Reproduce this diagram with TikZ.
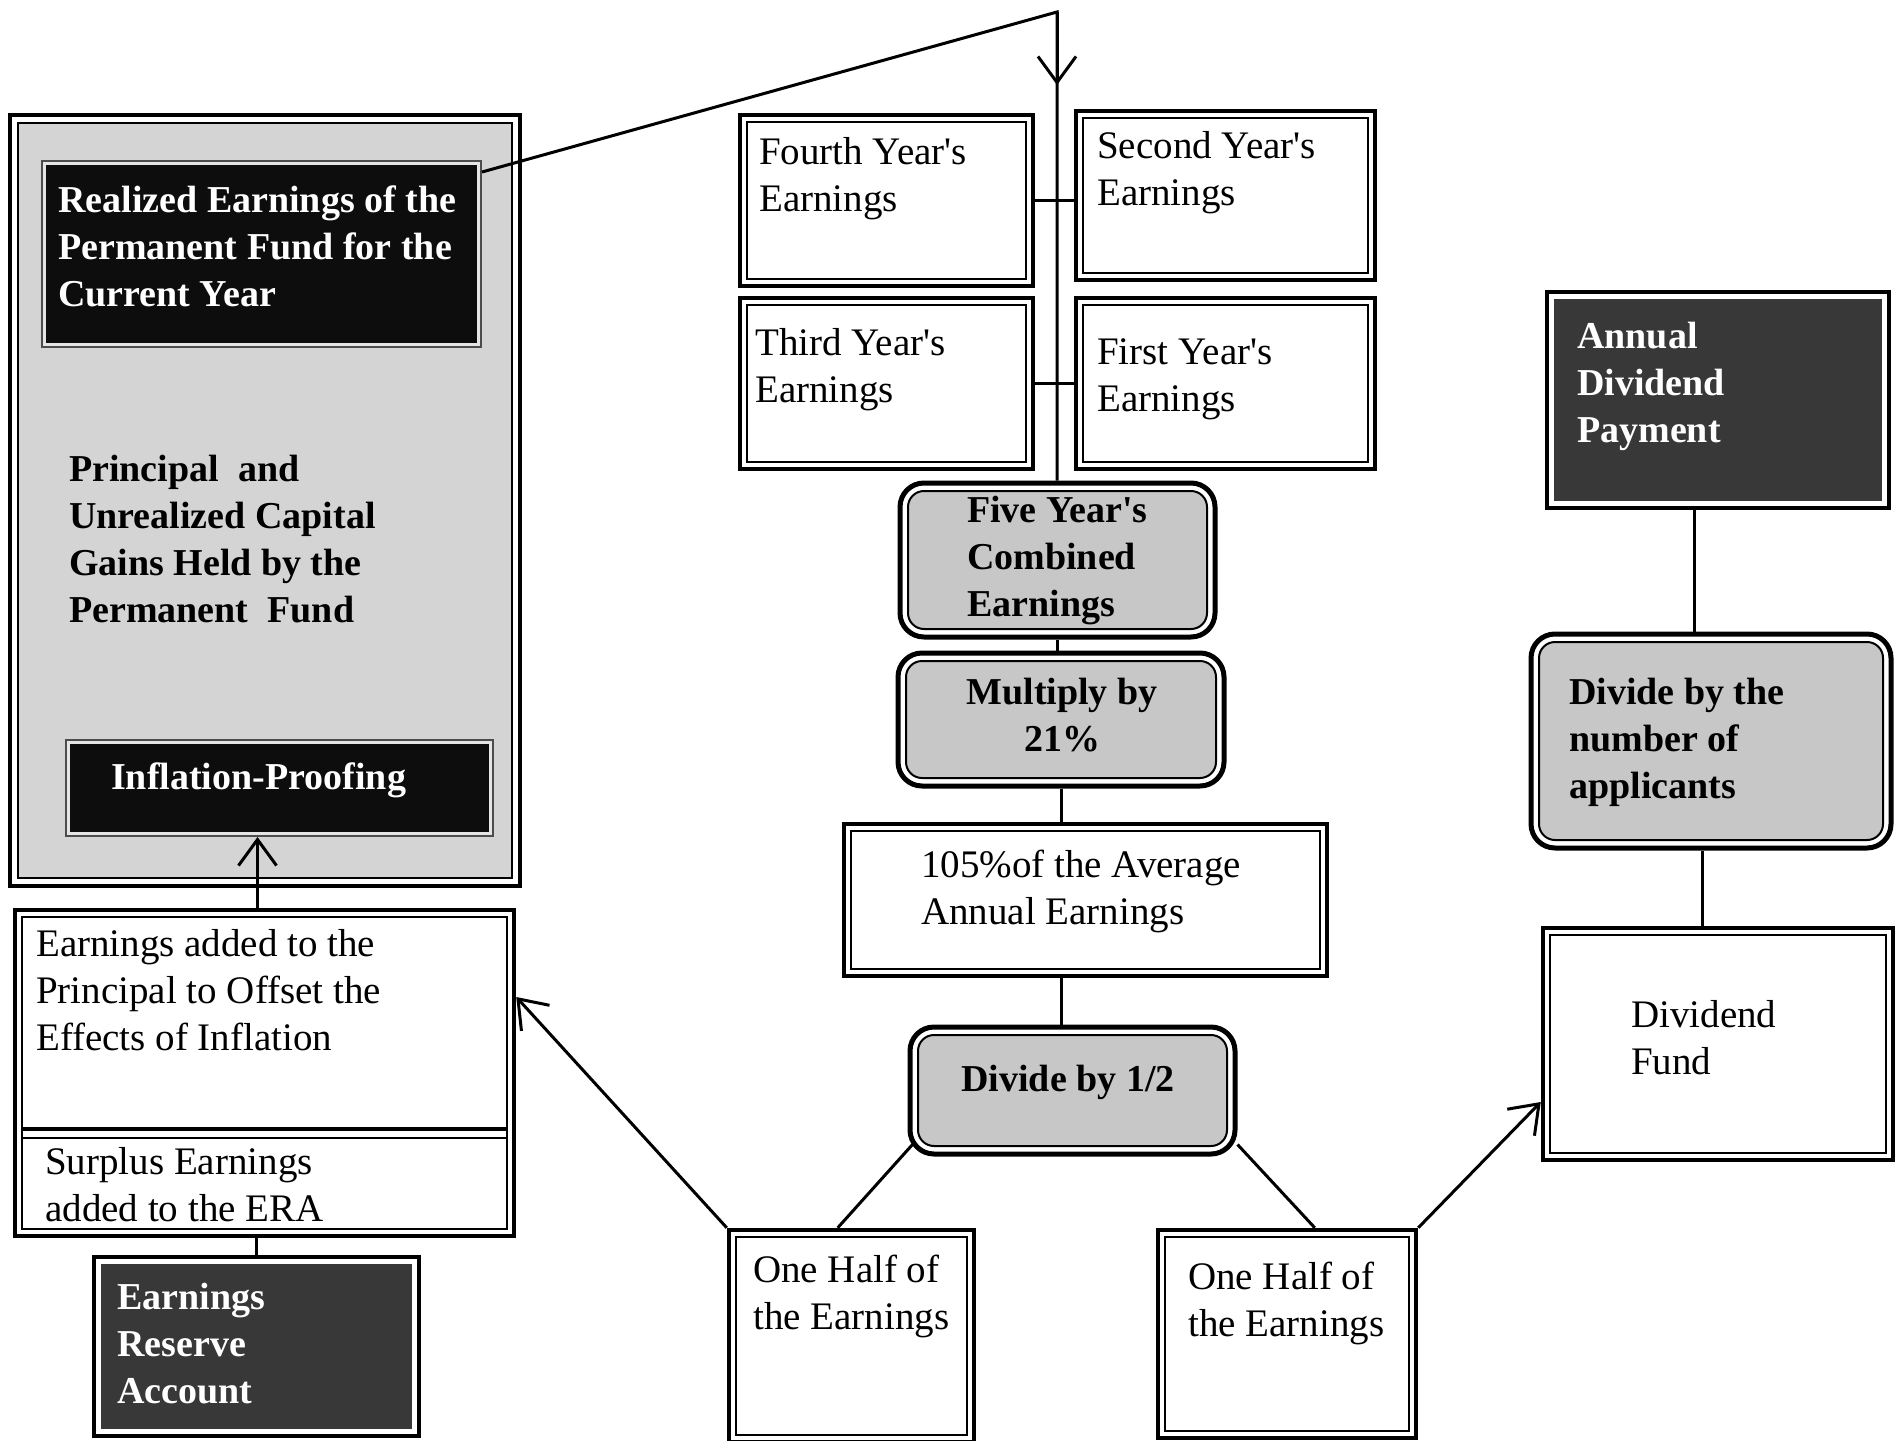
\documentclass[tikz,border=0pt]{standalone}
\usepackage{fontspec}
\setmainfont{Liberation Serif}
\usetikzlibrary{arrows.meta,fit}
\newcommand{\apo}{\textquotesingle}
\begin{document}
\begin{tikzpicture}[x=1pt,y=-1pt,
  infill/.store in=\boxinfill, indraw/.store in=\boxindraw,
  inlw/.store in=\boxinlw, inset/.store in=\boxinset, inrad/.store in=\boxinrad,
  infill=white, indraw=black, inlw=1.6pt, inset=7pt, inrad=0pt,
  box/.style={draw, line width=4.5pt, fill=white, inner sep=0pt,
    path picture={\draw[line width=\boxinlw, draw=\boxindraw, fill=\boxinfill, rounded corners=\boxinrad]
      ([shift={(\boxinset,-\boxinset)}]path picture bounding box.north west) rectangle
      ([shift={(-\boxinset,\boxinset)}]path picture bounding box.south east);}},
  rndbox/.style={box, line width=5pt, rounded corners=24pt, inrad=16pt, inset=8pt, infill=black!22, inlw=2pt},
  darkbox/.style={box, line width=3.5pt, infill=black!78, indraw=black!78, inset=8pt},
  blackbox/.style={box, line width=2pt, draw=black!70, fill=black!10, infill=black!95, indraw=black!95, inset=5pt},
  conn/.style={line width=3pt, draw=black},
  tip/.style={-{Straight Barb[length=26pt,width=38pt,line width=3pt]}},
  txt/.style={inner sep=0pt, anchor=north west, align=left, font=\fontsize{39}{47}\selectfont},
  btxt/.style={txt, font=\fontsize{38}{47}\selectfont\bfseries},
]
\useasboundingbox[fill=white] (0,0) rectangle (1895,1440);

% big permanent fund box
\node[box, inset=8pt, infill=black!17, inlw=2pt, fit={(10,115) (520,886)}] (big) {};
\node[blackbox, fit={(42,161) (481,347)}] (real) {};
\node[blackbox, fit={(66,740) (493,836)}] (infl) {};
\node[btxt, text=white] (realT) at (58,186) {Realized Earnings of the\\Permanent Fund for the\\Current Year};
\node[btxt] (prinT) at (69,455) {Principal\ \ and\\Unrealized Capital\\Gains Held by the\\Permanent\ \ Fund};
\node[btxt, text=white, anchor=west] (inflT) at (111,780) {Inflation-Proofing};

% earnings added box
\node[box, fit={(15,910) (514,1236)}] (ear) {};
\draw[line width=4.5pt] (22,1129) -- (507,1129);
\draw[line width=1.6pt] (22,1138) -- (507,1138);
\node[txt] (earT) at (36,929) {Earnings added to the\\Principal to Offset the\\Effects of Inflation};
\node[txt] (surT) at (45,1147) {Surplus Earnings\\added to the ERA};

\node[darkbox, fit={(94,1257) (419,1436)}] (era) {};
\node[btxt, text=white] (eraT) at (117,1283) {Earnings\\Reserve\\Account};

% yearly earnings
\node[box, fit={(740,115) (1033,286)}] (fourth) {};
\node[box, fit={(1076,111) (1375,280)}] (second) {};
\node[box, fit={(740,298) (1033,469)}] (third) {};
\node[box, fit={(1076,298) (1375,469)}] (first) {};
\node[txt] (fourthT) at (759,137) {Fourth Year\apo s\\Earnings};
\node[txt] (secondT) at (1097,131) {Second Year\apo s\\Earnings};
\node[txt] (thirdT) at (755,328) {Third Year\apo s\\Earnings};
\node[txt] (firstT) at (1097,338) {First Year\apo s\\Earnings};

% central chain
\node[rndbox, fit={(900,483) (1215,637)}] (five) {};
\node[btxt] (fiveT) at (967,496) {Five Year\apo s\\Combined\\Earnings};
\node[rndbox, fit={(898,653) (1224,786)}] (mult) {};
\node[btxt, anchor=north, align=center] (multT) at (1062,678) {Multiply by\\21\%};
\node[box, fit={(844,824) (1327,976)}] (avg) {};
\node[txt] (avgT) at (921,850) {105\%of the Average\\Annual Earnings};
\node[rndbox, fit={(910,1027) (1235,1154)}] (div2) {};
\node[btxt, anchor=center] (div2T) at (1068,1082) {Divide by 1/2};

\node[box, fit={(729,1230) (974,1442)}] (halfL) {};
\node[txt] (halfLT) at (753,1255) {One Half of\\the Earnings};
\node[box, fit={(1158,1230) (1416,1438)}] (halfR) {};
\node[txt] (halfRT) at (1188,1262) {One Half of\\the Earnings};

% dividend side
\node[darkbox, fit={(1547,292) (1889,508)}] (annual) {};
\node[btxt, text=white] (annualT) at (1577,322) {Annual\\Dividend\\Payment};
\node[rndbox, fit={(1531,634) (1891,848)}] (divnum) {};
\node[btxt] (divnumT) at (1569,678) {Divide by the\\number of\\applicants};
\node[box, fit={(1543,928) (1893,1160)}] (fund) {};
\node[txt] (fundT) at (1631,1000) {Dividend\\Fund};

% connectors
\coordinate (top) at (1057,12);
\draw[conn] ([yshift=-12pt]real.north east) -- (top) -- (top |- five.north);
\draw[conn, tip] (top) -- ([yshift=-73pt]top);
\draw[conn] (fourth.east) -- (fourth.east -| second.west);
\draw[conn] (third.east) -- (third.east -| first.west);
\draw[conn] (five.south) -- (five.south |- mult.north);
\draw[conn] (mult.south) -- (mult.south |- avg.north);
\draw[conn] (avg.south -| mult.south) -- (div2.north -| mult.south);
\draw[conn] ([shift={(5pt,12pt)}]div2.south west) -- ([xshift=111pt]halfL.north west);
\draw[conn] ([shift={(0pt,12pt)}]div2.south east) -- ([xshift=159pt]halfR.north west);
\draw[conn, tip] (halfL.north west) -- ([yshift=76pt]ear.east);
\draw[conn, tip] (halfR.north east) -- ([yshift=-58pt]fund.west);
\draw[conn, tip] ([xshift=-7pt]ear.north) -- ([xshift=-7pt]ear.north |- infl.south);
\draw[conn] (era.north |- ear.south) -- (era.north);
\draw[conn] ([xshift=-24pt]annual.south) -- ([xshift=-24pt]annual.south |- divnum.north);
\draw[conn] ([xshift=-9pt]divnum.south) -- ([xshift=-9pt]divnum.south |- fund.north);
\end{tikzpicture}
\end{document}
